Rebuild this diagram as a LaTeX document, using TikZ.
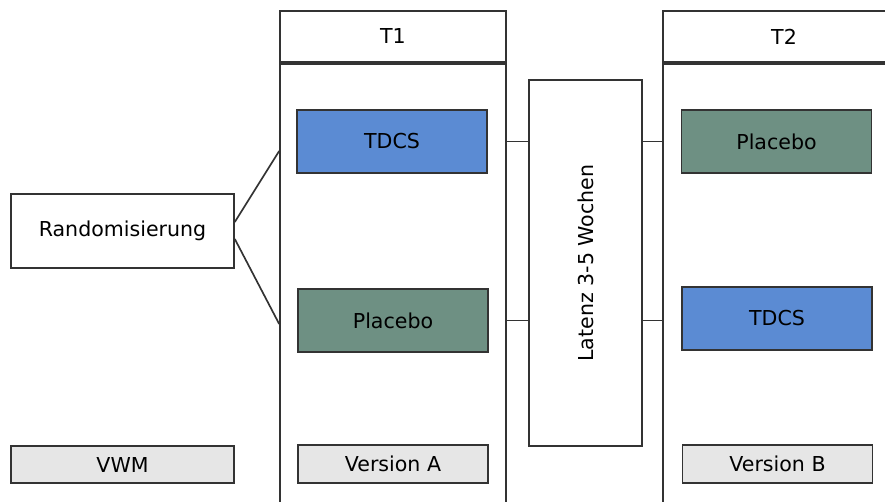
\documentclass[tikz,border=0pt]{standalone}
\usepackage{fontspec}
\setmainfont{DejaVu Sans}
\definecolor{tdcsblue}{HTML}{5B8BD3}
\definecolor{placgreen}{HTML}{6E9083}
\definecolor{vergray}{HTML}{E6E6E6}
\definecolor{edge}{HTML}{333333}

\begin{document}
\begin{tikzpicture}[x=0.02cm, y=-0.02cm, line width=0.95pt,
    font=\fontsize{11.7}{14}\selectfont,
    box/.style={draw=edge, rectangle, inner sep=0pt, minimum width=3.8cm, minimum height=1.26cm},
    tag/.style={box, fill=vergray, minimum height=0.75cm},
    col/.style={draw=edge, rectangle, inner sep=0pt}]

  \useasboundingbox (0,0) rectangle (885,501);
  \clip (0,0) rectangle (885,501);

  % Columns T1 and T2
  \node[col, minimum width=4.52cm, minimum height=1.02cm] (t1head) at (393,36.5) {T1};
  \node[col, minimum width=4.52cm, minimum height=9.2cm, anchor=north] (t1body) at (t1head.south) {};
  \node[col, minimum width=4.84cm, minimum height=1.02cm] (t2head) at (784,36.5) {T2};
  \node[col, minimum width=4.84cm, minimum height=9.2cm, anchor=north] (t2body) at (t2head.south) {};

  % Randomisation
  \node[box, minimum width=4.46cm, minimum height=1.48cm] (rand) at (122.5,231) {Randomisierung};

  % Groups at T1
  \node[box, fill=tdcsblue] (tdcsA) at (392,141.5) {TDCS};
  \node[box, fill=placgreen] (plaA) at (393,320.5) {Placebo};

  % Groups at T2
  \node[box, fill=placgreen] (plaB) at (776.5,141.5) {Placebo};
  \node[box, fill=tdcsblue] (tdcsB) at (777,318.5) {TDCS};

  % Latency block
  \node[box, minimum width=2.26cm, minimum height=7.32cm] (lat) at (585.5,263) {};
  \node[rotate=90] (latText) at (lat.center) {Latenz 3-5 Wochen};

  % Labels at the bottom
  \node[tag, minimum width=4.46cm] (vwm) at (122.5,464.5) {VWM};
  \node[tag] (verA) at (393,464) {Version A};
  \node[tag] (verB) at (777.5,464) {Version B};

  % Connectors
  \coordinate (randUp) at ([yshift=0.18cm]rand.east);
  \coordinate (randDown) at ([yshift=-0.16cm]rand.east);
  \draw[edge] (randUp) -- (t1body.west |- 0,151);
  \draw[edge] (randDown) -- (t1body.west |- 0,324);
  \draw[edge] (t1body.east |- tdcsA) -- (lat.west |- tdcsA);
  \draw[edge] (t1body.east |- plaA) -- (lat.west |- plaA);
  \draw[edge] (lat.east |- tdcsA) -- (t2body.west |- tdcsA);
  \draw[edge] (lat.east |- plaA) -- (t2body.west |- plaA);

\end{tikzpicture}
\end{document}
